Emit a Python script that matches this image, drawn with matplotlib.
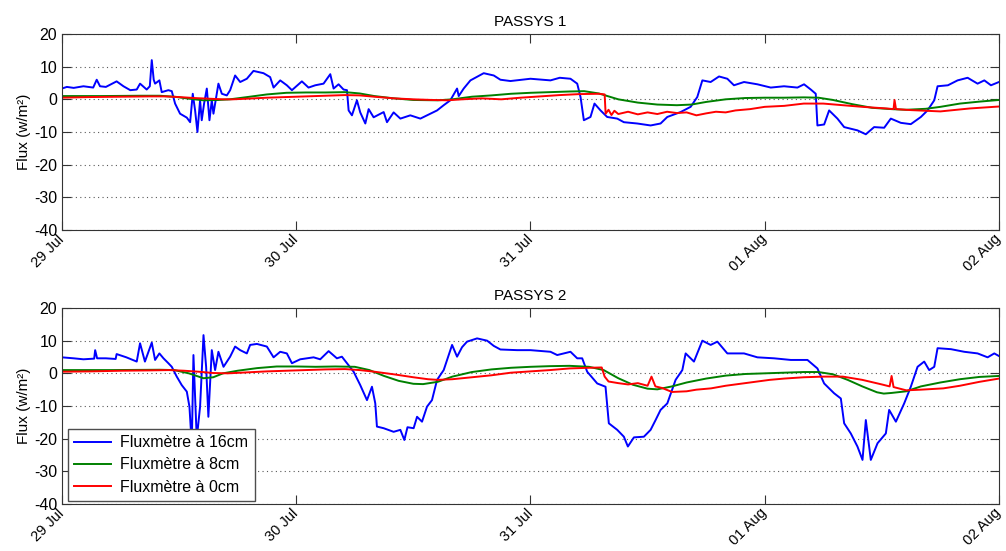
# flux meters, PASSYS 1 and 2, 29 Jul - 02 Aug

import pandas as pd
import matplotlib
matplotlib.use("Agg")
import matplotlib.pyplot as plt
import matplotlib.dates as mdates

plt.rcParams['font.family'] = ['Liberation Sans', 'DejaVu Sans']
plt.rcParams['axes.unicode_minus'] = False

start = pd.Timestamp("2013-07-29")

# PASSYS 1 -- hours since 29 Jul 00:00, flux in w/m2
p1_blue_h = [0, 0.5, 1.2, 2.2, 3.2, 3.56, 3.9, 4.5, 5.6, 6.3, 7.0, 7.66, 8.0, 8.68, 9.0, 9.2, 9.4,
             9.54, 9.98, 10.22, 10.9, 11.25, 11.59, 12.1, 12.79, 13.13, 13.4, 13.64, 13.88, 14.15,
             14.32, 14.56, 14.84, 15.11, 15.35, 15.52, 16.03, 16.38, 16.89, 17.23, 17.74, 18.26,
             18.94, 19.62, 20.65, 21.33, 21.68, 22.36, 23.04, 23.56, 24.58, 25.26, 25.95, 26.8,
             27.49, 27.83, 28.34, 28.85, 29.2, 29.37, 29.71, 30.22, 30.56, 31.08, 31.42, 31.93,
             32.96, 33.3, 33.98, 34.67, 35.69, 36.72, 37.74, 38.43, 39.11, 39.79, 40.48, 40.65,
             41.16, 41.85, 43.21, 44.24, 44.92, 45.95, 48.0, 50.05, 51.0, 52.1, 52.79, 53.13,
             53.47, 54.15, 54.56, 55.18, 55.86, 56.89, 57.57, 58.94, 60.31, 61.33, 62.02, 63.38,
             64.41, 65.09, 65.61, 66.46, 67.32, 68.17, 68.85, 69.88, 71.25, 72.62, 73.98, 75.35,
             76.03, 76.72, 77.23, 77.4, 78.09, 78.6, 79.45, 80.14, 81.5, 82.36, 83.21, 84.24,
             84.92, 85.95, 86.97, 88.0, 88.68, 89.37, 89.71, 90.77, 91.76, 92.79, 93.81, 94.5,
             95.18, 96.0]
p1_blue = [3.3, 3.8, 3.5, 4.0, 3.6, 6.0, 4.0, 3.8, 5.5, 4.0, 2.8, 3.0, 4.8, 3.0, 4.0, 12.0, 6.0,
           4.8, 5.8, 2.2, 2.8, 2.5, -1.3, -4.4, -5.6, -7.0, 1.7, -3.4, -10.0, -0.3,
           -6.4, -1.3, 3.3, -6.4, -0.3, -4.4, 4.8, 1.7, 1.2, 2.8, 7.3, 5.3,
           6.3, 8.7, 8.0, 6.8, 3.6, 5.8, 4.3, 2.8, 5.5, 3.6, 4.3, 4.8,
           7.7, 3.3, 4.6, 3.0, 2.8, -3.4, -4.9, -0.3, -4.0, -7.4, -3.0, -5.5,
           -3.9, -7.0, -4.0, -5.9, -4.9, -5.9, -4.4, -3.4, -1.8, -0.3, 3.3, 1.0,
           3.3, 5.8, 8.0, 7.3, 6.0, 5.6, 6.3, 5.8, 6.6, 6.3, 4.8, 0.7,
           -6.4, -5.4, -1.3, -3.4, -5.4, -5.9, -7.0, -7.4, -8.0, -7.4, -5.4, -3.9,
           -2.3, 0.7, 5.8, 5.3, 7.0, 6.3, 4.3, 5.3, 4.6, 3.6, 4.0, 3.6,
           4.6, 3.0, 1.7, -8.0, -7.7, -3.4, -5.9, -8.5, -9.5, -10.7, -8.5, -8.7,
           -5.9, -7.2, -7.6, -5.4, -3.4, -0.3, 4.0, 4.3, 5.8, 6.6, 4.8, 5.8,
           4.3, 5.3]

p1_green_h = [0, 4, 8, 10, 11.5, 13, 14.5, 16, 17.2, 19, 21, 23, 25, 27, 29, 30.5, 32, 34, 36,
              38.5, 40, 42, 44, 46, 48, 50, 52, 53.5, 55, 57, 59, 61, 63, 64.5, 66, 68, 70, 72,
              74, 76, 77.5, 79, 81, 83, 85, 86.5, 88.5, 90, 92, 94, 96]
p1_green = [1.0, 1.0, 1.1, 1.1, 0.8, 0.2, -0.3, -0.2, 0.0, 0.7, 1.5, 2.0, 2.1, 2.1, 2.2, 1.8, 1.0,
            0.3, -0.2, -0.3, 0.0, 0.8, 1.2, 1.7, 2.0, 2.2, 2.4, 2.5, 1.8, 0.0, -1.0, -1.6, -1.8,
            -1.6, -0.8, 0.0, 0.4, 0.5, 0.5, 0.6, 0.5, -0.2, -1.5, -2.6, -3.0, -3.2, -2.9, -2.3,
            -1.3, -0.7, -0.2]

p1_red_h = [0, 3, 6, 9, 10.5, 12, 13.5, 15, 16.5, 17.5, 19, 21, 23, 25, 27, 29, 30.5, 32, 34, 36,
            38, 39.5, 41, 43, 45, 47, 49, 51, 53, 55, 55.6, 55.7, 56, 56.3, 56.6, 57, 58, 59, 60,
            61, 62, 63, 64, 65, 66, 67, 68, 69, 70.5, 72, 74, 76, 78, 80, 82, 84.5, 85.2, 85.3,
            85.45, 87, 90, 93, 96]
p1_red = [0.5, 0.7, 0.8, 0.9, 0.9, 0.7, 0.4, 0.2, 0.0, 0.0, 0.2, 0.5, 0.7, 0.9, 1.1, 1.3, 1.2,
          0.8, 0.3, 0.0, -0.2, -0.3, 0.0, 0.3, 0.0, 0.5, 0.9, 1.3, 1.6, 1.7, 1.5, -4.4, -3.2, -4.8,
          -3.5, -4.5, -3.8, -4.6, -4.0, -4.5, -3.8, -4.2, -4.0, -4.9, -4.3, -3.8, -4.0, -3.4,
          -3.0, -2.3, -2.0, -1.3, -1.3, -1.8, -2.3, -2.8, -3.0, -0.2, -3.0, -3.3, -3.7, -2.8,
          -2.2]

# PASSYS 2
p2_blue_h = [0, 1.2, 2.2, 3.3, 3.4, 3.6, 4.5, 5.5, 5.6, 6.6, 7.66, 8.0, 8.5, 9.2, 9.54, 9.98,
             10.4, 10.9, 11.25, 11.76, 12.27, 12.79, 13.06, 13.3, 13.47, 13.81, 14.15, 14.5,
             14.77, 15.0, 15.35, 15.69, 16.03, 16.55, 17.23, 17.74, 18.26, 18.94, 19.28, 19.97,
             20.99, 21.68, 22.36, 23.04, 23.56, 24.41, 25.78, 26.46, 27.32, 28.17, 28.68, 29.2,
             29.88, 30.56, 31.25, 31.76, 32.1, 32.27, 32.96, 33.98, 34.67, 35.08, 35.4, 36.03,
             36.38, 36.89, 37.4, 37.91, 38.43, 39.11, 39.79, 39.97, 40.48, 40.99, 41.5, 42.53,
             43.56, 44.24, 44.92, 46.63, 48.0, 50.05, 50.74, 52.1, 52.79, 53.3, 53.81, 54.84,
             55.69, 56.03, 56.89, 57.57, 57.98, 58.6, 59.62, 60.31, 60.82, 61.33, 62.02, 62.87,
             63.56, 63.9, 64.75, 65.61, 66.46, 67.15, 68.17, 69.88, 71.25, 72.96, 74.67, 76.38,
             77.4, 78.09, 79.11, 79.8, 80.14, 80.82, 81.5, 82.02, 82.36, 82.87, 83.56, 84.41,
             84.75, 85.44, 86.29, 86.97, 87.66, 88.34, 88.85, 89.37, 89.71, 91.08, 92.44, 93.81,
             94.84, 95.52, 96.0]
p2_blue = [4.9, 4.6, 4.3, 4.5, 7.1, 4.6, 4.6, 4.4, 5.9, 4.9, 3.6, 9.2, 3.6, 9.4, 4.1, 6.1,
           4.6, 3.1, 2.0, -1.0, -3.6, -5.6, -10.2, -22.0, 5.6, -20.0, -10.2, 11.7,
           2.0, -13.3, 7.1, 1.0, 6.6, 2.0, 5.1, 8.2, 7.1, 6.1, 8.7, 9.0,
           8.2, 4.9, 6.6, 6.1, 3.1, 4.3, 4.9, 4.3, 6.8, 4.6, 5.1, 3.1,
           0.5, -3.6, -8.2, -4.1, -9.2, -16.3, -16.8, -17.9, -17.3, -20.4, -16.5, -16.8,
           -13.3, -14.8, -10.2, -8.2, -2.0, 1.0, 7.1, 8.7, 5.1, 8.0, 9.7, 10.7,
           10.0, 8.4, 7.3, 7.1, 7.1, 6.6, 5.6, 6.6, 4.6, 4.6, 0.5, -3.1,
           -4.1, -15.3, -17.3, -19.4, -22.4, -19.6, -19.4, -17.3, -14.3, -11.2, -9.2, -2.0,
           1.0, 6.1, 3.6, 10.0, 8.7, 9.7, 6.1, 6.1, 4.9, 4.6, 4.1, 4.1,
           1.5, -3.1, -6.1, -7.7, -15.3, -18.4, -22.4, -26.5, -14.3, -26.5, -21.4, -18.4,
           -11.2, -14.8, -9.2, -4.1, 2.0, 3.6, 1.0, 2.0, 7.7, 7.4, 6.6, 6.1,
           4.9, 6.1, 5.3]

p2_green_h = [0, 5, 10, 11.5, 13, 14.5, 15.5, 16.5, 18, 20, 22, 24, 26, 28, 30, 31.5, 33, 34.5,
              36, 37, 38.5, 40, 42, 44, 46, 48, 50, 52, 54, 55.5, 57, 58.5, 60, 61, 62.5, 64,
              66, 68, 70, 72, 74, 76, 77.5, 79, 80.5, 82, 83.5, 84.2, 85, 86.5, 88, 90, 92, 94,
              96]
p2_green = [1.0, 1.0, 1.1, 1.0, 0.0, -1.5, -1.2, 0.0, 0.8, 1.6, 2.1, 2.1, 2.0, 2.1, 2.0, 1.0,
            -0.8, -2.3, -3.2, -3.3, -2.6, -1.0, 0.4, 1.2, 1.7, 2.0, 2.2, 2.3, 2.0, 1.0, -1.5,
            -3.5, -4.7, -4.9, -4.0, -2.8, -1.6, -0.7, -0.2, 0.0, 0.2, 0.4, 0.4, -0.3, -2.0,
            -4.0, -5.8, -6.2, -6.0, -5.5, -4.0, -2.8, -1.8, -1.1, -0.8]

p2_red_h = [0, 3, 6, 9, 11, 12.5, 14, 15.5, 17, 19, 21, 23, 25, 27, 29, 30.5, 32, 34, 36, 37.5,
            38.5, 40, 42, 44, 46, 48, 50, 52, 54, 55.3, 55.6, 56, 57, 58, 59, 60, 60.4, 60.8,
            61.5, 62.5, 64, 65, 66.5, 68, 70, 72.5, 74, 76, 78, 80, 82, 84, 84.8, 85.0, 85.2,
            86.5, 88, 90.3, 92, 94, 96]
p2_red = [0.5, 0.6, 0.8, 0.9, 1.0, 0.8, 0.5, 0.1, 0.0, 0.3, 0.6, 0.8, 1.0, 1.2, 1.3, 1.0, 0.5,
          -0.3, -1.2, -1.8, -2.0, -1.8, -1.2, -0.6, 0.2, 0.6, 1.0, 1.5, 1.7, 1.8, -1.0, -2.5,
          -3.0, -3.4, -3.0, -3.8, -1.0, -4.0, -4.5, -5.7, -5.5, -5.0, -4.6, -3.8, -3.0, -2.0,
          -1.6, -1.2, -1.0, -1.0, -2.0, -3.4, -4.0, -0.8, -4.2, -5.2, -5.0, -4.6, -3.8, -2.6,
          -1.6]

titles = ["PASSYS 1", "PASSYS 2"]
labels = ["Fluxmètre à 16cm", "Fluxmètre à 8cm", "Fluxmètre à 0cm"]
colors = ["#0000ff", "#008000", "#ff0000"]


def to_time(hours):
    return start + pd.to_timedelta(hours, unit="h")


panels = [
    [(p1_blue_h, p1_blue), (p1_green_h, p1_green), (p1_red_h, p1_red)],
    [(p2_blue_h, p2_blue), (p2_green_h, p2_green), (p2_red_h, p2_red)],
]

fig = plt.figure(figsize=(10.06, 5.51), dpi=100)
ax1 = fig.add_axes([0.0616, 0.5826, 0.9314, 0.3557])
ax2 = fig.add_axes([0.0616, 0.0853, 0.9314, 0.3557])

for ax, title, series in zip([ax1, ax2], titles, panels):
    for (h, v), lab, c in zip(series, labels, colors):
        ax.plot(to_time(h), v, color=c, lw=1.4, label=lab)
    ax.set_xlim(start, start + pd.Timedelta(days=4))
    ax.set_ylim(-40, 20)
    ax.set_yticks([-40, -30, -20, -10, 0, 10, 20])
    ax.xaxis.set_major_locator(mdates.DayLocator())
    ax.xaxis.set_major_formatter(mdates.DateFormatter("%d %b"))
    ax.yaxis.grid(True, linestyle=(0, (1, 3)), color="0.35", lw=0.8)
    ax.tick_params(direction="in", top=True, right=True, length=6.5, color="0.2")
    ax.tick_params(axis="y", labelsize=11.5)
    ax.tick_params(axis="x", labelsize=10.5, pad=5)
    for lbl in ax.get_xticklabels():
        lbl.set_rotation(45)
        lbl.set_ha("right")
        lbl.set_va("center")
        lbl.set_rotation_mode("anchor")
    for sp in ax.spines.values():
        sp.set_color("0.2")
    ax.set_title(title, fontsize=11, pad=6)
    ax.set_ylabel("Flux (w/m²)", fontsize=11, labelpad=2)

leg = ax2.legend(loc="lower left", bbox_to_anchor=(0.006, 0.015), borderaxespad=0,
                 fontsize=11.5, fancybox=False, framealpha=1, edgecolor="0.3",
                 handlelength=2.3, labelspacing=0.45, borderpad=0.4, handletextpad=0.6)
leg.get_frame().set_linewidth(1.0)

fig.savefig("out.png", dpi=100)
